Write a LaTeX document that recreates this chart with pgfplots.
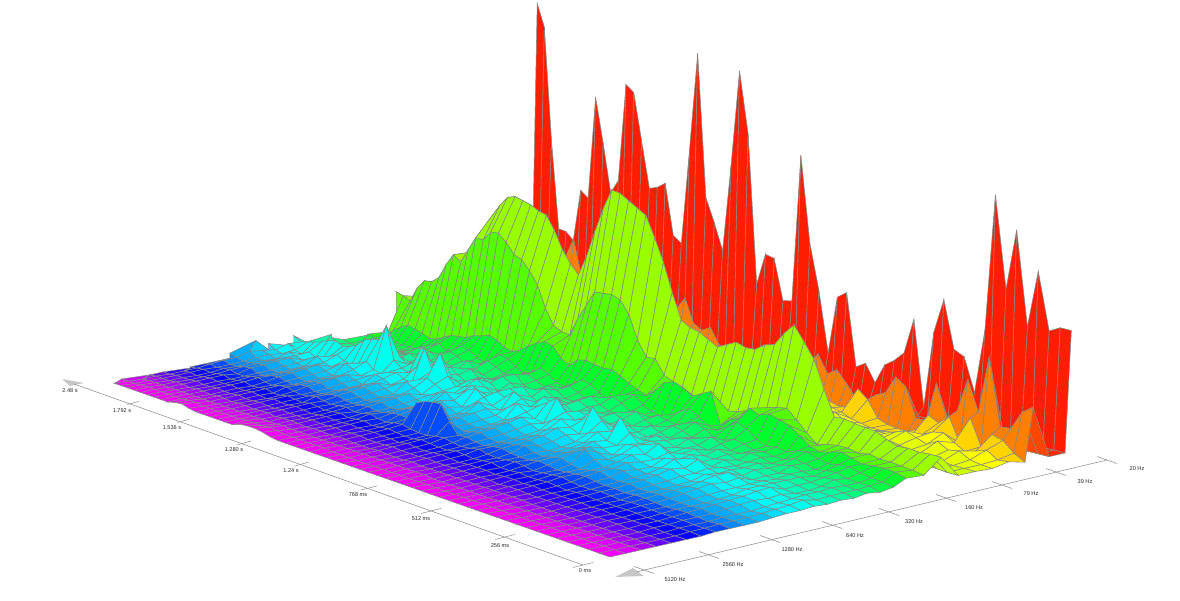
\documentclass[border=0pt]{standalone}
\usepackage{fontspec}
\setmainfont{Liberation Sans}
\usepackage{pgfplots}
\pgfplotsset{compat=1.18}
\usepgfplotslibrary{colormaps}

\begin{document}
\begin{tikzpicture}[x=1pt,y=1pt]
\path[use as bounding box] (0,0) rectangle (1180,601);
% heights in px above the floor, one block per frequency row (back to front),
% 61 time steps per row (2.48 s first, 0 ms last)
\begin{axis}[
  at={(0,0)},anchor=origin,
  disabledatascaling,clip=false,axis lines=none,
  x={(1pt,0pt)},y={(0pt,1pt)},z={(0.0001pt,1pt)},
  xmin=0,xmax=1180,ymin=0,ymax=601,zmin=0,zmax=340,
  declare function={
    tt(\k)=(\k<1 ? -0.4 : (\k<2 ? 0 : (\k<3 ? 1 : (\k<4 ? 2 : (\k<12 ? \k-1.5 : 9.5+(\k-11)*0.7143)))));
    uu(\n)=1-mod(\n,61)/60;
    aa(\n)=1-tt(floor(\n/61))/24.5;
    dd(\n)=1+0.3*uu(\n)+0.178*aa(\n);
    gx(\n)=(610-469.6*uu(\n)+644.6*aa(\n))/dd(\n);
    gy(\n)=601-(557-61.7*uu(\n)-23.4*aa(\n))/dd(\n);
  },
  colormap={rows}{
    rgb255=(255,28,0) rgb255=(255,40,0) rgb255=(255,70,0) rgb255=(255,128,0) rgb255=(255,212,0)
    rgb255=(255,255,0) rgb255=(230,255,0) rgb255=(204,255,0) rgb255=(187,255,0) rgb255=(153,255,0)
    rgb255=(85,255,0) rgb255=(0,255,42) rgb255=(0,255,68) rgb255=(0,255,98) rgb255=(0,255,128)
    rgb255=(0,255,157) rgb255=(0,255,187) rgb255=(0,255,212) rgb255=(0,255,238) rgb255=(0,251,255)
    rgb255=(0,221,255) rgb255=(0,195,255) rgb255=(0,170,255) rgb255=(0,136,255) rgb255=(0,76,255)
    rgb255=(0,34,255) rgb255=(8,0,255) rgb255=(51,0,255) rgb255=(106,0,255) rgb255=(170,0,255)
    rgb255=(221,0,255) rgb255=(255,0,255)
  },
  point meta min=0.5,point meta max=31.5,
]
\addplot3[surf,shader=faceted,faceted color={rgb,255:red,135;green,135;blue,135},line width=0.55pt,
  z buffer=none,mesh/rows=33,mesh/cols=61,
  point meta={floor(\coordindex/61)}]
table[row sep=\\,header=false,x expr={gx(\coordindex)},y expr={gy(\coordindex)},z index=0]{
315\\293\\181\\95\\94\\87\\139\\133\\236\\192\\
144\\158\\256\\250\\204\\158\\161\\167\\117\\111\\
206\\305\\163\\140\\114\\201\\298\\237\\89\\121\\
119\\79\\81\\229\\143\\98\\38\\96\\103\\31\\
37\\20\\40\\47\\57\\93\\8\\85\\120\\73\\
68\\35\\100\\238\\146\\208\\114\\172\\115\\121\\
121\\
0\\0\\0\\0\\0\\0\\0\\0\\0\\0\\
0\\0\\0\\0\\0\\0\\0\\0\\0\\0\\
0\\0\\0\\0\\0\\0\\0\\0\\0\\0\\
0\\0\\0\\0\\0\\0\\0\\0\\0\\0\\
0\\0\\0\\0\\0\\0\\0\\0\\0\\0\\
0\\0\\0\\0\\0\\0\\0\\0\\0\\0\\
0\\
0\\0\\0\\0\\0\\0\\0\\0\\0\\0\\
0\\0\\0\\0\\0\\0\\0\\0\\0\\0\\
0\\0\\0\\0\\0\\0\\0\\0\\0\\0\\
0\\0\\0\\0\\0\\0\\0\\0\\0\\0\\
0\\0\\0\\0\\0\\0\\0\\0\\0\\0\\
0\\0\\0\\0\\0\\0\\0\\0\\0\\0\\
0\\
20\\25\\30\\30\\35\\40\\40\\45\\60\\85\\
103\\70\\40\\35\\35\\30\\30\\30\\30\\35\\
40\\40\\45\\60\\73\\50\\45\\50\\35\\30\\
30\\25\\25\\30\\30\\28\\30\\35\\40\\51\\
34\\40\\29\\15\\12\\25\\30\\48\\41\\12\\
12\\52\\20\\30\\64\\34\\92\\25\\26\\45\\
53\\
10\\12\\15\\15\\15\\18\\20\\22\\25\\25\\
25\\22\\20\\18\\18\\20\\20\\20\\22\\22\\
25\\25\\25\\25\\28\\28\\25\\22\\20\\20\\
18\\18\\15\\15\\15\\15\\14\\12\\10\\8\\
6\\5\\8\\10\\30\\22\\6\\2\\1\\0\\
6\\22\\17\\26\\2\\30\\4\\19\\16\\6\\
0\\
8\\8\\10\\12\\12\\15\\15\\15\\18\\18\\
18\\16\\15\\15\\15\\16\\18\\18\\18\\20\\
20\\20\\20\\22\\22\\22\\20\\18\\18\\16\\
16\\15\\14\\14\\12\\12\\10\\10\\12\\16\\
20\\24\\20\\12\\10\\6\\4\\2\\2\\3\\
4\\6\\9\\14\\16\\9\\3\\6\\10\\3\\
4\\
6\\6\\8\\8\\10\\12\\12\\14\\14\\16\\
14\\12\\12\\12\\14\\14\\14\\16\\16\\16\\
18\\18\\18\\16\\16\\16\\14\\14\\14\\12\\
12\\10\\10\\10\\10\\12\\14\\14\\14\\14\\
12\\10\\8\\10\\14\\16\\10\\8\\6\\8\\
8\\12\\16\\12\\8\\14\\8\\10\\4\\2\\
1\\
5\\5\\6\\8\\8\\10\\10\\10\\12\\12\\
12\\10\\10\\10\\12\\12\\12\\12\\14\\14\\
14\\14\\14\\14\\14\\12\\12\\10\\10\\10\\
10\\8\\8\\8\\10\\10\\12\\12\\10\\10\\
10\\8\\8\\6\\6\\8\\8\\6\\6\\6\\
6\\8\\10\\8\\6\\6\\4\\3\\2\\2\\
2\\
4\\4\\5\\6\\6\\8\\8\\8\\10\\10\\
10\\8\\8\\8\\10\\10\\10\\10\\10\\12\\
12\\12\\12\\12\\10\\10\\10\\8\\8\\8\\
8\\6\\6\\6\\8\\8\\10\\10\\8\\8\\
8\\6\\6\\6\\5\\5\\6\\5\\5\\4\\
4\\4\\5\\5\\4\\4\\3\\3\\3\\2\\
2\\
30\\42\\55\\58\\60\\70\\85\\90\\100\\112\\
130\\143\\155\\165\\168\\166\\164\\160\\158\\145\\
128\\116\\107\\128\\155\\180\\201\\200\\195\\190\\
185\\165\\143\\115\\90\\85\\83\\78\\73\\78\\
83\\80\\81\\88\\91\\105\\116\\102\\87\\60\\
35\\36\\34\\33\\32\\27\\23\\24\\23\\24\\
24\\
47\\45\\42\\57\\66\\67\\73\\88\\100\\95\\
109\\123\\123\\133\\134\\127\\117\\114\\105\\93\\
72\\57\\53\\52\\71\\86\\102\\103\\104\\101\\
89\\66\\51\\52\\38\\34\\31\\25\\22\\20\\
22\\20\\22\\26\\30\\34\\37\\39\\30\\20\\
11\\14\\16\\16\\14\\16\\14\\14\\13\\12\\
10\\
8\\8\\15\\20\\24\\22\\20\\17\\18\\22\\
26\\27\\28\\32\\34\\37\\34\\29\\27\\31\\
37\\42\\46\\44\\34\\29\\37\\39\\37\\36\\
37\\33\\28\\24\\21\\29\\39\\42\\39\\33\\
38\\43\\12\\20\\25\\37\\33\\37\\34\\31\\
24\\16\\13\\16\\19\\16\\13\\14\\15\\14\\
11\\
9\\7\\6\\6\\8\\8\\8\\8\\12\\16\\
20\\14\\18\\24\\22\\16\\14\\20\\26\\24\\
18\\14\\18\\24\\20\\14\\12\\18\\24\\22\\
16\\12\\16\\22\\24\\16\\12\\10\\14\\20\\
26\\20\\14\\12\\18\\26\\22\\14\\10\\12\\
10\\14\\16\\12\\10\\12\\13\\10\\8\\7\\
5\\
8\\6\\5\\5\\6\\6\\6\\8\\12\\16\\
16\\12\\14\\20\\18\\12\\12\\16\\22\\18\\
14\\12\\16\\20\\16\\12\\12\\16\\20\\16\\
12\\12\\18\\22\\18\\12\\10\\12\\16\\14\\
12\\16\\20\\16\\10\\10\\14\\12\\9\\10\\
8\\8\\12\\10\\7\\9\\10\\7\\6\\6\\
3\\
7\\5\\4\\4\\5\\5\\6\\8\\10\\12\\
12\\14\\20\\16\\12\\12\\18\\22\\16\\12\\
10\\14\\20\\22\\14\\10\\14\\20\\18\\12\\
12\\18\\22\\16\\12\\12\\16\\20\\14\\10\\
12\\16\\14\\10\\12\\16\\12\\8\\8\\12\\
10\\7\\8\\11\\8\\6\\8\\9\\6\\5\\
5\\
11\\7\\5\\4\\4\\5\\7\\10\\12\\12\\
14\\18\\14\\12\\16\\20\\14\\12\\18\\20\\
14\\12\\16\\22\\18\\12\\12\\18\\22\\16\\
12\\14\\20\\16\\12\\14\\18\\14\\10\\12\\
16\\12\\9\\12\\14\\10\\8\\12\\10\\7\\
8\\10\\8\\6\\8\\8\\6\\5\\7\\5\\
3\\
14\\10\\7\\6\\6\\8\\10\\12\\10\\14\\
18\\14\\12\\14\\18\\16\\12\\16\\22\\16\\
12\\14\\20\\18\\12\\14\\20\\24\\16\\12\\
16\\22\\18\\12\\14\\20\\16\\12\\14\\16\\
12\\10\\14\\12\\8\\10\\12\\8\\8\\10\\
7\\8\\9\\6\\6\\8\\6\\4\\6\\5\\
4\\
10\\9\\8\\10\\12\\12\\12\\14\\18\\14\\
16\\20\\16\\24\\18\\22\\40\\24\\16\\20\\
16\\14\\20\\24\\18\\14\\18\\24\\20\\14\\
18\\26\\22\\14\\14\\22\\20\\14\\12\\16\\
14\\10\\12\\14\\10\\8\\10\\12\\8\\6\\
8\\9\\6\\5\\7\\8\\5\\4\\6\\4\\
3\\
18\\14\\16\\18\\20\\24\\26\\22\\24\\28\\
35\\38\\40\\56\\24\\18\\16\\24\\45\\25\\
45\\24\\16\\18\\22\\18\\16\\23\\20\\28\\
24\\18\\22\\28\\35\\24\\18\\22\\37\\26\\
18\\35\\22\\14\\16\\20\\14\\10\\14\\16\\
10\\8\\12\\10\\7\\8\\10\\6\\5\\7\\
4\\
8\\14\\10\\8\\12\\9\\10\\14\\18\\14\\
12\\16\\20\\14\\12\\16\\18\\14\\12\\18\\
22\\18\\14\\12\\16\\22\\26\\20\\14\\12\\
18\\24\\18\\14\\12\\18\\22\\16\\12\\16\\
20\\14\\12\\16\\18\\12\\10\\14\\16\\10\\
8\\10\\12\\8\\6\\8\\9\\5\\4\\5\\
3\\
14\\10\\8\\12\\10\\8\\12\\16\\12\\10\\
14\\18\\14\\10\\12\\16\\14\\10\\14\\18\\
14\\10\\12\\16\\20\\14\\10\\14\\20\\16\\
12\\10\\14\\18\\14\\10\\14\\18\\14\\10\\
12\\16\\12\\8\\12\\14\\10\\8\\10\\12\\
8\\6\\9\\10\\6\\5\\7\\6\\3\\4\\
3\\
8\\11\\9\\7\\10\\12\\9\\8\\11\\14\\
10\\8\\10\\13\\10\\8\\11\\14\\11\\8\\
10\\13\\10\\8\\12\\16\\12\\8\\11\\14\\
10\\8\\11\\15\\11\\8\\10\\13\\10\\7\\
9\\12\\16\\13\\9\\10\\12\\8\\7\\9\\
6\\5\\7\\8\\5\\4\\6\\5\\2\\3\\
2\\
19\\12\\8\\7\\9\\11\\8\\7\\10\\12\\
9\\7\\9\\12\\9\\7\\10\\12\\9\\7\\
9\\11\\8\\7\\10\\13\\10\\7\\9\\12\\
8\\7\\9\\12\\9\\7\\9\\11\\8\\6\\
8\\10\\14\\19\\12\\7\\9\\10\\6\\7\\
5\\4\\6\\6\\4\\3\\5\\4\\2\\2\\
1\\
10\\8\\6\\7\\8\\9\\6\\6\\8\\10\\
7\\6\\8\\9\\6\\6\\9\\10\\7\\6\\
7\\9\\6\\7\\10\\12\\10\\8\\9\\8\\
8\\6\\8\\10\\7\\6\\8\\9\\11\\7\\
6\\8\\10\\7\\5\\7\\9\\6\\5\\6\\
4\\4\\5\\4\\3\\3\\4\\2\\2\\2\\
1\\
5\\7\\5\\5\\7\\8\\5\\5\\7\\8\\
6\\5\\7\\8\\5\\5\\7\\8\\6\\5\\
6\\7\\5\\6\\8\\9\\8\\26\\30\\32\\
33\\18\\7\\8\\6\\5\\7\\8\\6\\5\\
5\\7\\6\\4\\5\\6\\7\\5\\4\\4\\
3\\4\\4\\3\\2\\3\\3\\2\\1\\2\\
1\\
3\\5\\4\\5\\6\\4\\4\\6\\7\\5\\
4\\6\\7\\5\\4\\5\\7\\5\\4\\5\\
6\\4\\5\\7\\5\\4\\6\\7\\5\\4\\
4\\6\\7\\5\\4\\5\\7\\5\\4\\5\\
6\\5\\3\\4\\5\\6\\4\\3\\3\\4\\
3\\2\\3\\3\\2\\2\\2\\2\\1\\1\\
1\\
2\\3\\4\\3\\4\\5\\3\\4\\5\\3\\
4\\5\\3\\3\\5\\4\\3\\5\\4\\3\\
4\\5\\3\\4\\5\\3\\4\\5\\4\\3\\
3\\5\\4\\3\\3\\5\\4\\3\\4\\5\\
3\\3\\4\\3\\3\\4\\3\\2\\3\\3\\
2\\2\\2\\2\\2\\1\\1\\1\\1\\1\\
0\\
1\\2\\3\\2\\3\\4\\3\\3\\4\\3\\
3\\4\\3\\2\\4\\3\\3\\4\\3\\2\\
3\\4\\3\\3\\4\\3\\3\\4\\3\\3\\
2\\4\\3\\2\\3\\4\\3\\2\\3\\3\\
3\\2\\3\\3\\2\\3\\2\\2\\2\\2\\
2\\1\\2\\1\\1\\1\\1\\1\\0\\0\\
0\\
1\\1\\2\\2\\2\\3\\2\\2\\3\\2\\
2\\3\\2\\2\\3\\2\\2\\3\\2\\2\\
2\\3\\2\\2\\3\\2\\3\\3\\2\\2\\
2\\3\\2\\2\\2\\3\\2\\2\\2\\2\\
2\\2\\2\\1\\2\\2\\1\\1\\1\\1\\
1\\1\\1\\1\\1\\1\\0\\0\\0\\0\\
0\\
0\\1\\1\\1\\2\\2\\1\\2\\2\\1\\
2\\2\\1\\2\\2\\1\\2\\2\\1\\2\\
2\\2\\1\\2\\2\\1\\2\\2\\1\\1\\
1\\2\\1\\1\\1\\2\\1\\1\\1\\1\\
1\\1\\1\\1\\1\\1\\1\\1\\0\\0\\
0\\0\\0\\0\\0\\0\\0\\0\\0\\0\\
0\\
0\\0\\1\\1\\1\\1\\1\\1\\1\\1\\
1\\1\\1\\1\\1\\1\\1\\1\\1\\1\\
1\\2\\1\\1\\1\\1\\1\\1\\1\\1\\
1\\1\\1\\1\\1\\1\\1\\1\\1\\0\\
0\\0\\0\\0\\0\\0\\0\\0\\0\\0\\
0\\0\\0\\0\\0\\0\\0\\0\\0\\0\\
0\\
0\\0\\0\\1\\1\\1\\1\\1\\1\\1\\
2\\2\\1\\1\\1\\1\\1\\1\\2\\2\\
2\\3\\2\\1\\1\\1\\1\\1\\1\\0\\
0\\0\\0\\0\\0\\0\\0\\0\\0\\0\\
0\\0\\0\\0\\0\\0\\0\\0\\0\\0\\
0\\0\\0\\0\\0\\0\\0\\0\\0\\0\\
0\\
0\\0\\0\\0\\0\\0\\0\\0\\0\\0\\
2\\3\\1\\0\\0\\0\\0\\0\\0\\3\\
4\\4\\3\\1\\0\\0\\0\\0\\0\\0\\
0\\0\\0\\0\\0\\0\\0\\0\\0\\0\\
0\\0\\0\\0\\0\\0\\0\\0\\0\\0\\
0\\0\\0\\0\\0\\0\\0\\0\\0\\0\\
0\\
};
\end{axis}
\begin{scope}[x=1pt,y=-1pt,yshift=601pt,line width=0.6pt]
\definecolor{ax}{RGB}{150,150,150}
\fill[black!22] (62,379) -- (84,383) -- (70,386) -- cycle;
\fill[black!22] (615,577) -- (633,568) -- (644,576) -- cycle;
\draw[ax] (74,384) -- (583,565);
\draw[ax] (636,572) -- (1107,460);
\foreach \tx/\ty/\hw/\hh in {133/403/6/1.5,183/421/6/1.5,244/443/7/2,302/464/7/2,369/488/8/2,431/511/10/2.5,505/537/10/2.5,583/565/10/2.5}
  \draw[ax] (\tx-\hw,\ty+\hh) -- (\tx+\hw,\ty-\hh);
\foreach \tx/\ty in {644/570,709/555,770/539,832/525,889/512,946/498,1002/485,1056/472,1107/460}
  \draw[ax] (\tx-10,\ty-3.5) -- (\tx+10,\ty+3.5);
\tikzset{lab/.style={font=\fontsize{5.6}{6}\selectfont,text=black!85,inner sep=0pt}}
\foreach \lx/\ly/\s in {70/391/2.48 s,122/411/1.792 s,172/428/1.536 s,234/450/1.280 s,291/471/1.24 s,358/495/768 ms,421/519/512 ms,500/546/256 ms,585/571/0 ms,675/580/5120 Hz,733/565/2560 Hz,792/550/1280 Hz,855/536/640 Hz,914/522/320 Hz,974/508/160 Hz,1031/494/79 Hz,1085/482/39 Hz,1137/469/20 Hz}
  \node[lab] at (\lx,\ly) {\s};
\end{scope}
\end{tikzpicture}
\end{document}
